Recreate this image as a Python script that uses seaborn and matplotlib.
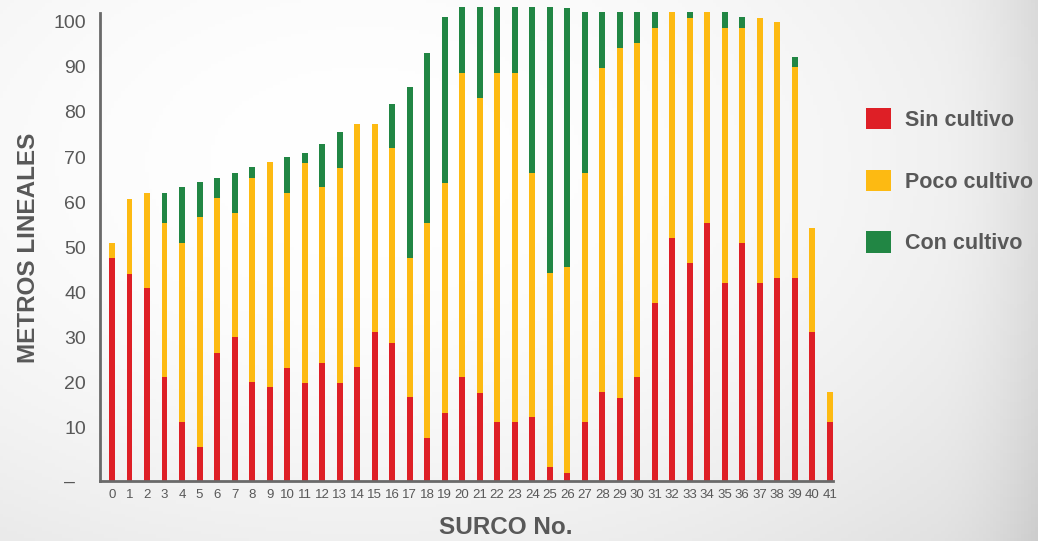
import numpy as np
import pandas as pd
import matplotlib
matplotlib.use("Agg")
import matplotlib.pyplot as plt
import seaborn as sns
from matplotlib.patches import Patch

# ---------------- data ----------------
surco = [str(i) for i in range(42)]
sin_cultivo = [47.7, 44.1, 41.0, 21.2, 11.3, 5.7, 26.6, 30.1, 20.1, 19.0,
               23.2, 19.9, 24.3, 19.9, 23.5, 31.2, 28.8, 16.8, 7.7, 13.3,
               21.2, 17.7, 11.3, 11.3, 12.4, 1.3, 0.0, 11.3, 17.9, 16.6,
               21.2, 37.6, 52.1, 46.5, 55.4, 42.1, 50.9, 42.1, 43.2, 43.2, 31.2, 11.3]
poco_cultivo = [3.2, 16.6, 21.0, 34.2, 39.6, 51.0, 34.3, 27.5, 45.3, 49.9,
                38.8, 48.8, 39.1, 47.7, 53.8, 46.1, 43.2, 30.8, 47.7, 50.9,
                67.4, 65.4, 77.3, 77.3, 54.1, 43.0, 45.6, 55.2, 71.8, 77.6,
                74.1, 61.0, 50.1, 54.3, 46.8, 56.5, 47.7, 58.7, 56.7, 46.8, 23.1, 6.6]
con_cultivo = [0, 0, 0, 6.6, 12.5, 7.8, 4.5, 8.9, 2.4, 0,
               8.0, 2.2, 9.5, 7.9, 0, 0, 9.8, 37.9, 37.7, 36.8,
               14.7, 20.2, 14.7, 14.7, 36.8, 59.0, 57.4, 35.7, 12.5, 8.0,
               6.9, 3.6, 0, 1.4, 0, 3.6, 2.4, 0, 0, 2.2, 0, 0]
series_names = ["Sin cultivo", "Poco cultivo", "Con cultivo"]
y_ticks = [10, 20, 30, 40, 50, 60, 70, 80, 90, 100]
x_title = "SURCO No."
y_title = "METROS LINEALES"

colors = ["#de1f26", "#fdba12", "#218644"]
text_grey = "#585858"
axis_grey = "#6a6a6a"

df = pd.DataFrame({"surco": surco, "sin": sin_cultivo,
                   "poco": poco_cultivo, "con": con_cultivo})
df["c1"] = df["sin"]
df["c2"] = df["sin"] + df["poco"]
df["c3"] = df["c2"] + df["con"]

sns.set_theme(style="white")
plt.rcParams["font.family"] = ["Liberation Sans", "DejaVu Sans"]

W, H = 1038, 541
fig = plt.figure(figsize=(W / 100, H / 100), dpi=100)

# background gradient
bg = fig.add_axes([0, 0, 1, 1], zorder=-10)
xx, yy = np.meshgrid(np.linspace(0, 1, 300), np.linspace(0, 1, 160))
r = np.sqrt(((xx - 0.35) / 0.75) ** 2 + ((yy - 0.3) / 0.9) ** 2)
val = 1.0 - 0.10 * np.clip(r, 0, 1.5) ** 2
val -= 0.06 * np.clip((xx - 0.9) / 0.1, 0, 1) ** 2
bg.imshow(np.dstack([val, val, val]), extent=[0, 1, 0, 1], aspect="auto",
          origin="upper", vmin=0, vmax=1)
bg.set_axis_off()

base = -1.75
ytop = 104.0
ax = fig.add_axes([100 / W, (H - 480.7) / H, 733 / W, 477 / H])
ax.set_facecolor("none")

for col, c in zip(["c3", "c2", "c1"], colors[::-1]):
    sns.barplot(data=df, x="surco", y=col, order=surco, color=c,
                saturation=1, width=0.34, ax=ax, errorbar=None)

for p in ax.patches:
    top = p.get_y() + p.get_height()
    p.set_y(base)
    p.set_height(top - base)
    p.set_linewidth(0)

ax.set_xlim(-0.685, 41.18)
ax.set_ylim(base, ytop)

ax.set_yticks([base] + y_ticks)
ax.set_yticklabels(["–  "] + [str(t) for t in y_ticks])
ax.tick_params(axis="y", length=0, pad=10, labelsize=14, labelcolor=text_grey)
ax.tick_params(axis="x", length=0, pad=6, labelsize=9.5, labelcolor=text_grey)

for s in ["top", "right"]:
    ax.spines[s].set_visible(False)
for s in ["left", "bottom"]:
    ax.spines[s].set_color(axis_grey)
    ax.spines[s].set_linewidth(2)
ax.spines["left"].set_bounds(base, 101.9)

ax.set_xlabel(x_title, fontsize=17.5, fontweight="bold", color=text_grey)
ax.set_ylabel(y_title, fontsize=17.5, fontweight="bold", color=text_grey)
ax.xaxis.label.set_va("center")
ax.yaxis.label.set_va("center")
ax.xaxis.set_label_coords((506 - 100) / 733, (480.7 - 527) / 477)
ax.yaxis.set_label_coords((29 - 100) / 733, (480.7 - 248) / 477)

handles = [Patch(facecolor=c, edgecolor="none") for c in colors]
fig.legend(handles, series_names, loc="upper left",
           bbox_to_anchor=(866 / W, 1 - 108 / H), frameon=False,
           borderpad=0, borderaxespad=0, handlelength=1.15, handleheight=1.15,
           handletextpad=0.65, labelspacing=1.8,
           prop=dict(weight="bold", size=15.5), labelcolor=text_grey)

fig.savefig("out.png", dpi=100)
